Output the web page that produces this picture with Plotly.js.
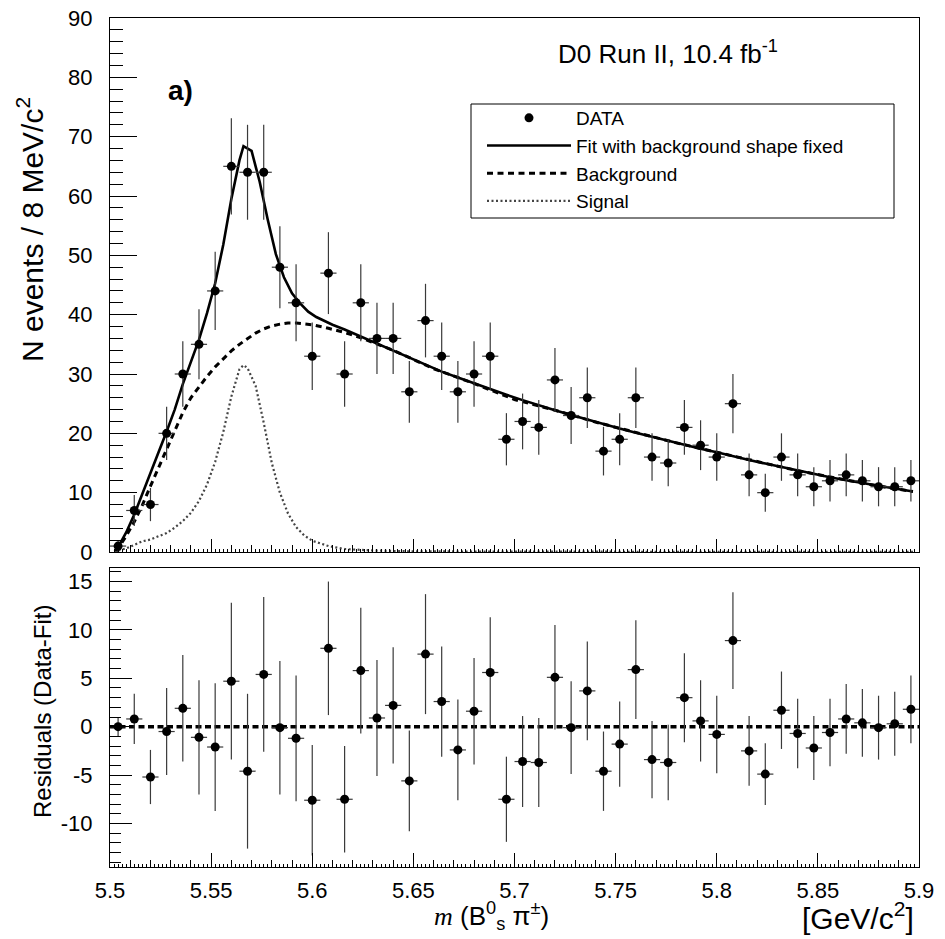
<!DOCTYPE html>
<html>
<head>
<meta charset="utf-8">
<script src="https://cdn.plot.ly/plotly-3.0.1.min.js"></script>
<style>
  html, body { margin: 0; padding: 0; background: #ffffff; }
  #chart { width: 945px; height: 939px; }
</style>
</head>
<body>
<div id="chart"></div>
<script>
// ---------------- data ----------------
const massBins = [5.504,5.512,5.520,5.528,5.536,5.544,5.552,5.560,5.568,5.576,
                  5.584,5.592,5.600,5.608,5.616,5.624,5.632,5.640,5.648,5.656,
                  5.664,5.672,5.680,5.688,5.696,5.704,5.712,5.720,5.728,5.736,
                  5.744,5.752,5.760,5.768,5.776,5.784,5.792,5.800,5.808,5.816,
                  5.824,5.832,5.840,5.848,5.856,5.864,5.872,5.880,5.888,5.896];
const counts = [1,7,8,20,30,35,44,65,64,64,
                48,42,33,47,30,42,36,36,27,39,
                33,27,30,33,19,22,21,29,23,26,
                17,19,26,16,15,21,18,16,25,13,
                10,16,13,11,12,13,12,11,11,12];
const countErrors = [1.0,2.6,2.8,4.5,5.5,5.9,6.6,8.1,8.0,8.0,
                     6.9,6.5,5.7,6.9,5.5,6.5,6.0,6.0,5.2,6.2,
                     5.7,5.2,5.5,5.7,4.4,4.7,4.6,5.4,4.8,5.1,
                     4.1,4.4,5.1,4.0,3.9,4.6,4.2,4.0,5.0,3.6,
                     3.2,4.0,3.6,3.3,3.5,3.6,3.5,3.3,3.3,3.5];
const binHalfWidth = 0.004;
const residuals = [0.0,0.8,-5.2,-0.5,1.9,-1.1,-2.1,4.7,-4.6,5.4,
                   -0.1,-1.2,-7.6,8.1,-7.5,5.8,0.9,2.2,-5.6,7.5,
                   2.6,-2.4,1.6,5.6,-7.5,-3.6,-3.7,5.1,-0.1,3.7,
                   -4.6,-1.8,5.9,-3.4,-3.7,3.0,0.6,-0.8,8.9,-2.5,
                   -4.9,1.7,-0.7,-2.2,-0.6,0.8,0.4,-0.1,0.3,1.8];

const fitMass = [5.503,5.508,5.512,5.516,5.520,5.524,5.528,5.532,5.536,5.540,
                 5.544,5.548,5.552,5.556,5.560,5.564,5.566,5.570,5.574,5.578,
                 5.582,5.586,5.590,5.594,5.598,5.602,5.606,5.610,5.616,5.624,
                 5.632,5.640,5.648,5.656,5.664,5.672,5.680,5.688,5.696,5.704,
                 5.712,5.720,5.728,5.736,5.744,5.752,5.760,5.768,5.776,5.784,
                 5.792,5.800,5.808,5.816,5.824,5.832,5.840,5.848,5.856,5.864,
                 5.872,5.880,5.888,5.897];
const fitValues = [0.2,3.3,6.3,9.7,13.2,16.8,20.3,24.0,28.3,32.0,
                   35.8,40.3,45.3,51.8,59.5,66.0,68.4,67.6,62.4,56.0,
                   50.2,46.3,43.6,41.9,40.5,39.6,38.9,38.3,37.5,36.3,
                   35.2,34.0,32.7,31.5,30.4,29.4,28.4,27.4,26.5,25.6,
                   24.7,23.9,23.1,22.3,21.6,20.8,20.1,19.4,18.7,18.0,
                   17.4,16.8,16.1,15.5,14.9,14.3,13.7,13.2,12.6,12.1,
                   11.6,11.1,10.7,10.2];

const bgMass = [5.503,5.508,5.512,5.516,5.520,5.524,5.528,5.532,5.536,5.540,
                5.544,5.548,5.552,5.556,5.560,5.564,5.568,5.572,5.576,5.580,
                5.584,5.588,5.592,5.596,5.600,5.608,5.616,5.624,5.632,5.640,
                5.660,5.680,5.700,5.720,5.740,5.760,5.780,5.800,5.820,5.840,
                5.860,5.880,5.897];
const bgValues = [0.1,2.7,5.1,7.9,11.1,14.2,17.1,20.2,23.5,26.0,
                  27.9,29.6,31.2,32.6,33.9,35.0,36.0,36.9,37.6,38.1,
                  38.4,38.6,38.6,38.5,38.3,37.7,37.0,36.1,35.1,34.0,
                  30.9,28.4,25.7,23.9,21.9,20.1,18.4,16.8,15.2,13.7,
                  12.4,11.1,10.2];

const sigMass = [5.502,5.504,5.508,5.512,5.516,5.520,5.524,5.528,5.532,5.536,
                 5.540,5.544,5.548,5.552,5.556,5.560,5.564,5.566,5.568,5.572,
                 5.576,5.580,5.584,5.588,5.592,5.596,5.600,5.608,5.616,5.630,
                 5.650,5.700,5.800,5.897];
const sigValues = [0.1,0.3,0.6,1.2,1.8,2.1,2.6,3.2,4.1,5.2,
                   6.6,8.6,11.4,15.2,20.2,26.2,30.8,31.5,31.0,28.0,
                   21.8,15.0,10.0,6.5,4.2,2.8,1.9,1.0,0.5,0.25,
                   0.1,0.05,0.02,0.01];

const zeroLineMass = [5.5, 5.9];
const zeroLineValues = [0, 0];

const xTickVals = [5.5,5.55,5.6,5.65,5.7,5.75,5.8,5.85,5.9];
const xTickText = ["5.5","5.55","5.6","5.65","5.7","5.75","5.8","5.85","5.9"];
const yTickVals = [0,10,20,30,40,50,60,70,80,90];
const yTickText = ["0","10","20","30","40","50","60","70","80","90"];
const resTickVals = [-10,-5,0,5,10,15];
const resTickText = ["-10","-5","0","5","10","15"];

const legendNames = ["DATA", "Fit with background shape fixed", "Background", "Signal"];

// ---------------- figure ----------------
const FONT = "Liberation Sans, Arial, Helvetica, sans-serif";
const W = 945, H = 939;
const M = {l: 110, r: 26, t: 18, b: 72};
const plotW = W - M.l - M.r, plotH = H - M.t - M.b;
// helpers to convert pixel positions (of the picture) to paper coordinates
const px = v => (v - M.l) / plotW;
const py = v => (H - M.b - v) / plotH;

const errStyleY = arr => ({type: 'data', array: arr, visible: true, color: '#3a3a3a', thickness: 1.2, width: 0});
const errStyleX = {type: 'constant', value: binHalfWidth, visible: true, color: '#3a3a3a', thickness: 1.2, width: 0};

const traces = [
  {
    x: sigMass, y: sigValues, type: 'scatter', mode: 'lines', name: legendNames[3],
    line: {color: '#444444', width: 2.2, dash: '2px,2.5px'}, legendrank: 4,
    xaxis: 'x', yaxis: 'y', hoverinfo: 'skip'
  },
  {
    x: bgMass, y: bgValues, type: 'scatter', mode: 'lines', name: legendNames[2],
    line: {color: '#000000', width: 3, dash: '6px,4.5px'}, legendrank: 3,
    xaxis: 'x', yaxis: 'y', hoverinfo: 'skip'
  },
  {
    x: fitMass, y: fitValues, type: 'scatter', mode: 'lines', name: legendNames[1],
    line: {color: '#000000', width: 2.6}, legendrank: 2,
    xaxis: 'x', yaxis: 'y', hoverinfo: 'skip'
  },
  {
    x: massBins, y: counts, type: 'scatter', mode: 'markers', name: legendNames[0],
    marker: {color: '#000000', size: 9, symbol: 'circle'},
    error_y: errStyleY(countErrors), error_x: errStyleX, legendrank: 1,
    xaxis: 'x', yaxis: 'y'
  },
  {
    x: zeroLineMass, y: zeroLineValues, type: 'scatter', mode: 'lines', showlegend: false,
    line: {color: '#000000', width: 3.5, dash: '6px,3.5px'},
    xaxis: 'x2', yaxis: 'y2', hoverinfo: 'skip'
  },
  {
    x: massBins, y: residuals, type: 'scatter', mode: 'markers', showlegend: false,
    marker: {color: '#000000', size: 9, symbol: 'circle'},
    error_y: errStyleY(countErrors), error_x: errStyleX,
    xaxis: 'x2', yaxis: 'y2'
  },
  // invisible carriers so that the fine-tick overlay axes are drawn
  {
    x: zeroLineMass, y: zeroLineValues, type: 'scatter', mode: 'lines', showlegend: false,
    line: {color: 'rgba(0,0,0,0)', width: 0}, xaxis: 'x3', yaxis: 'y', hoverinfo: 'skip'
  },
  {
    x: zeroLineMass, y: zeroLineValues, type: 'scatter', mode: 'lines', showlegend: false,
    line: {color: 'rgba(0,0,0,0)', width: 0}, xaxis: 'x4', yaxis: 'y2', hoverinfo: 'skip'
  }
];

const topBottomPx = 552, botTopPx = 568;
const axisCommon = {
  showgrid: false, zeroline: false, showline: true, linecolor: '#000000', linewidth: 1,
  mirror: true, ticks: 'inside', tickcolor: '#000000', tickwidth: 1,
  tickfont: {family: FONT, size: 22, color: '#000000'}
};
const fineTicks = (anchorAxis) => ({
  overlaying: 'x', anchor: anchorAxis, side: 'bottom', range: [5.5, 5.9],
  showgrid: false, zeroline: false, showline: false, showticklabels: false,
  ticks: 'inside', dtick: 0.002, tick0: 5.5, ticklen: 3, tickcolor: '#000000', tickwidth: 1
});

const layout = {
  width: W, height: H,
  margin: M,
  paper_bgcolor: '#ffffff', plot_bgcolor: '#ffffff',
  font: {family: FONT, color: '#000000'},
  showlegend: true,
  legend: {
    x: px(482), y: py(99), xanchor: 'left', yanchor: 'top',
    bgcolor: 'rgba(0,0,0,0)', borderwidth: 0,
    font: {family: FONT, size: 19, color: '#000000'},
    itemwidth: 84, tracegroupgap: 0
  },
  xaxis: Object.assign({}, axisCommon, {
    domain: [0, 1], anchor: 'y', range: [5.5, 5.9],
    tickvals: xTickVals, ticktext: xTickText, showticklabels: false, ticklen: 13,
    minor: {ticks: 'inside', dtick: 0.01, tick0: 5.5, ticklen: 7, tickcolor: '#000000', tickwidth: 1}
  }),
  yaxis: Object.assign({}, axisCommon, {
    domain: [py(topBottomPx), 1], anchor: 'x', range: [0, 90],
    tickvals: yTickVals, ticktext: yTickText, ticklen: 27, ticklabelstandoff: 12,
    minor: {ticks: 'inside', dtick: 2, tick0: 0, ticklen: 13, tickcolor: '#000000', tickwidth: 1}
  }),
  xaxis2: Object.assign({}, axisCommon, {
    domain: [0, 1], anchor: 'y2', range: [5.5, 5.9],
    tickvals: xTickVals, ticktext: xTickText, ticklen: 14, ticklabelstandoff: 4,
    minor: {ticks: 'inside', dtick: 0.01, tick0: 5.5, ticklen: 7, tickcolor: '#000000', tickwidth: 1}
  }),
  yaxis2: Object.assign({}, axisCommon, {
    domain: [0, py(botTopPx)], anchor: 'x2', range: [-14.5, 16.4],
    tickvals: resTickVals, ticktext: resTickText, ticklen: 22, ticklabelstandoff: 12,
    minor: {ticks: 'inside', dtick: 1, tick0: 0, ticklen: 11, tickcolor: '#000000', tickwidth: 1}
  }),
  xaxis3: fineTicks('y'),
  xaxis4: Object.assign(fineTicks('y2'), {overlaying: 'x2'}),
  shapes: [
    // legend frame
    {type: 'rect', xref: 'paper', yref: 'paper', x0: px(471), x1: px(894), y0: py(218), y1: py(104),
     line: {color: '#000000', width: 1}, fillcolor: 'rgba(0,0,0,0)', layer: 'above'}
  ],
  annotations: [
    {xref: 'paper', yref: 'paper', x: px(166), y: py(91), xanchor: 'left', yanchor: 'middle',
     text: '<b>a)</b>', showarrow: false, font: {family: FONT, size: 28, color: '#000000'}},
    {xref: 'paper', yref: 'paper', x: px(556), y: py(53), xanchor: 'left', yanchor: 'middle',
     text: 'D0 Run II, 10.4 fb<sup>-1</sup>', showarrow: false, font: {family: FONT, size: 26, color: '#000000'}},
    {xref: 'paper', yref: 'paper', x: px(30), y: py(230), xanchor: 'center', yanchor: 'middle', textangle: -90,
     text: 'N events / 8 MeV/c<sup>2</sup>', showarrow: false, font: {family: FONT, size: 30, color: '#000000'}},
    {xref: 'paper', yref: 'paper', x: px(42), y: py(712), xanchor: 'center', yanchor: 'middle', textangle: -90,
     text: 'Residuals (Data-Fit)', showarrow: false, font: {family: FONT, size: 24, color: '#000000'}},
    {xref: 'paper', yref: 'paper', x: px(432), y: py(916), xanchor: 'left', yanchor: 'middle',
     text: '<span style="font-family:Liberation Serif, Times New Roman, serif;font-style:italic">m</span> (B<sup>0</sup><sub>s</sub> π<sup>±</sup>)',
     showarrow: false, font: {family: FONT, size: 26, color: '#000000'}},
    {xref: 'paper', yref: 'paper', x: px(916), y: py(916), xanchor: 'right', yanchor: 'middle',
     text: '[GeV/c<sup>2</sup>]', showarrow: false, font: {family: FONT, size: 30, color: '#000000'}}
  ]
};

Plotly.newPlot('chart', traces, layout, {staticPlot: true, displayModeBar: false});
</script>
</body>
</html>
